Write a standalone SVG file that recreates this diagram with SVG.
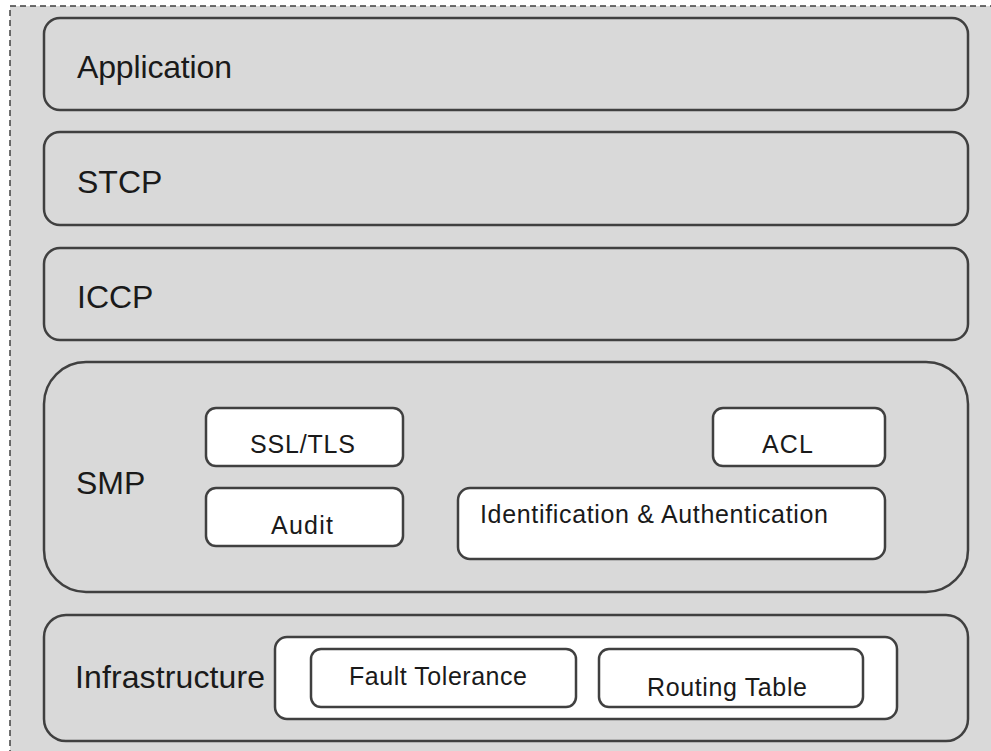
<svg xmlns="http://www.w3.org/2000/svg" width="991" height="751" viewBox="0 0 991 751">
<style>
.layer{fill:#d9d9d9;stroke:#404040;stroke-width:2.5}
.box{fill:#ffffff;stroke:#404040;stroke-width:2.5}
.big{font-family:"Liberation Sans",Arial,sans-serif;font-size:32px;fill:#1a1a1a}
.small{font-family:"Liberation Sans",Arial,sans-serif;font-size:25px;fill:#1a1a1a}
</style>
<rect x="0" y="0" width="991" height="751" fill="#ffffff"/>
<rect x="10" y="6" width="1000" height="760" fill="#d9d9d9" stroke="#404040" stroke-width="1.5" stroke-dasharray="6,4"/>
<g id="application">
<rect class="layer" x="44" y="18" width="924" height="92" rx="16"/>
<text class="big" x="77" y="78" textLength="155" lengthAdjust="spacing">Application</text>
</g>
<g id="stcp">
<rect class="layer" x="44" y="132" width="924" height="93" rx="16"/>
<text class="big" x="77" y="193">STCP</text>
</g>
<g id="iccp">
<rect class="layer" x="44" y="248" width="924" height="92" rx="16"/>
<text class="big" x="77" y="308">ICCP</text>
</g>
<g id="smp">
<rect class="layer" x="44" y="362" width="924" height="230" rx="42"/>
<text class="big" x="76" y="494">SMP</text>
</g>
<g id="ssltls">
<rect class="box" x="206" y="408" width="197" height="58" rx="10"/>
<text class="small" x="250" y="453" textLength="105" lengthAdjust="spacing">SSL/TLS</text>
</g>
<g id="audit">
<rect class="box" x="206" y="488" width="197" height="58" rx="10"/>
<text class="small" x="271" y="534" textLength="62" lengthAdjust="spacing">Audit</text>
</g>
<g id="acl">
<rect class="box" x="713" y="408" width="172" height="58" rx="10"/>
<text class="small" x="762" y="453" textLength="51" lengthAdjust="spacing">ACL</text>
</g>
<g id="ident">
<rect class="box" x="458" y="488" width="427" height="71" rx="12"/>
<text class="small" x="480" y="523" textLength="348" lengthAdjust="spacing">Identification &amp; Authentication</text>
</g>
<g id="infrastructure">
<rect class="layer" x="44" y="615" width="924" height="126" rx="22"/>
<text class="big" x="75" y="688" textLength="190" lengthAdjust="spacing">Infrastructure</text>
</g>
<g id="infra-inner">
<rect class="box" x="275" y="637" width="622" height="82" rx="12"/>
</g>
<g id="fault">
<rect class="box" x="311" y="649" width="265" height="58" rx="10"/>
<text class="small" x="349" y="685" textLength="178" lengthAdjust="spacing">Fault Tolerance</text>
</g>
<g id="routing">
<rect class="box" x="599" y="649" width="264" height="58" rx="10"/>
<text class="small" x="647" y="696" textLength="160" lengthAdjust="spacing">Routing Table</text>
</g>
<g id="connectors"></g>
</svg>
